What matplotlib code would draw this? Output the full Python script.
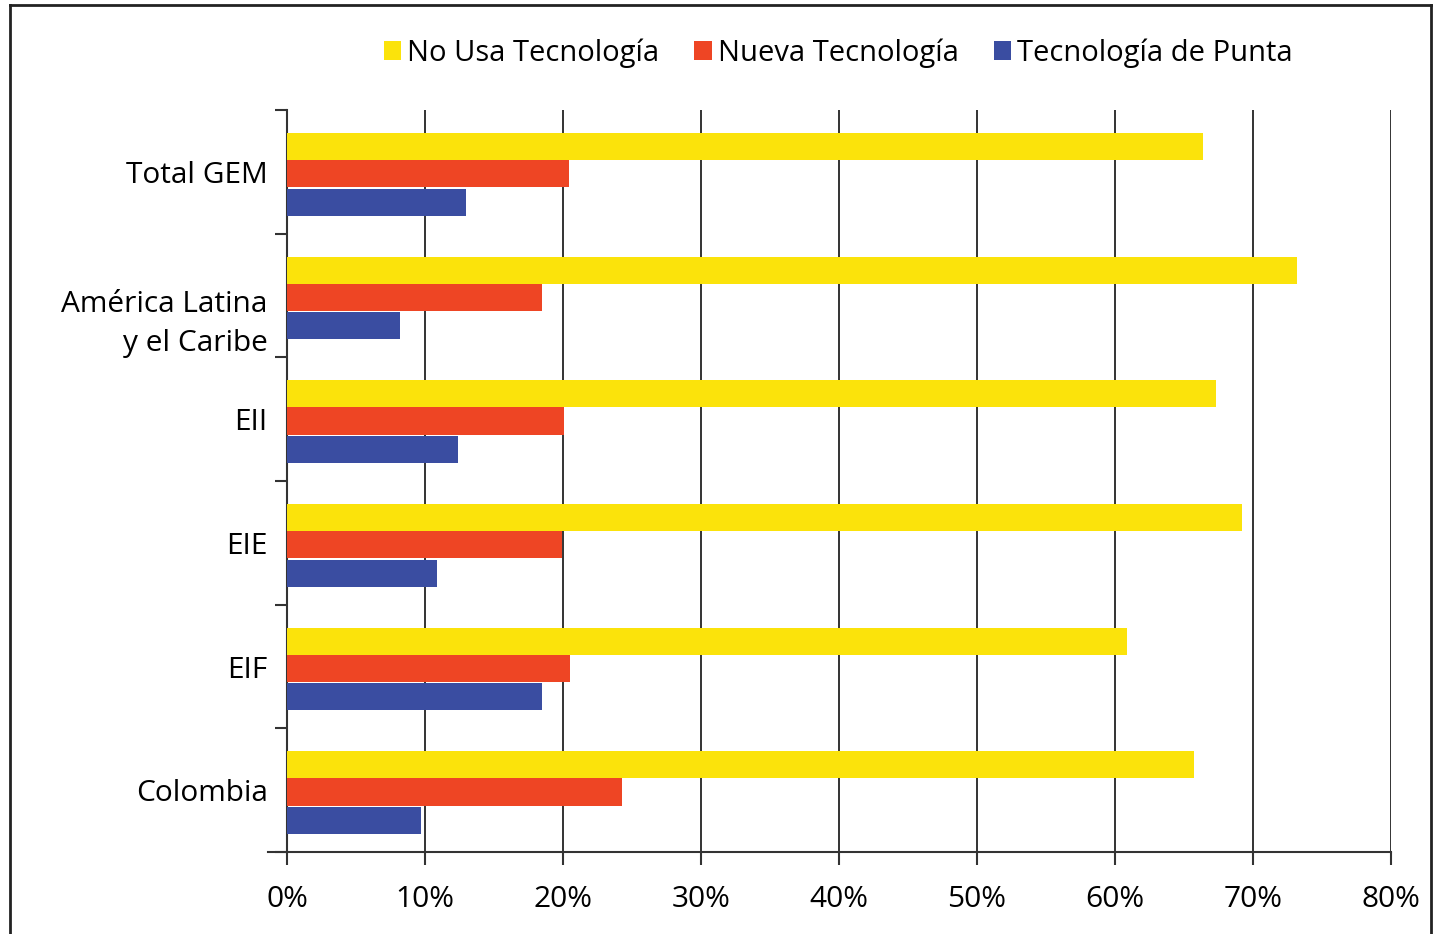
import numpy as np
import matplotlib.pyplot as plt
from matplotlib.lines import Line2D
from matplotlib.transforms import ScaledTranslation

plt.rcParams['font.family'] = ['Open Sans', 'DejaVu Sans']

# data (percent)
categorias = ['Total GEM', 'América Latina\ny el Caribe', 'EII', 'EIE', 'EIF', 'Colombia']
series = ['No Usa Tecnología', 'Nueva Tecnología', 'Tecnología de Punta']
no_usa = [66.4, 73.2, 67.3, 69.2, 60.9, 65.7]
nueva = [20.4, 18.5, 20.1, 19.9, 20.5, 24.3]
punta = [13.0, 8.2, 12.4, 10.9, 18.5, 9.7]
colores = ['#FBE30B', '#EE4524', '#3A4DA1']

fig = plt.figure(figsize=(14.33, 9.34), dpi=100)
ax = fig.add_axes([0.2003, 0.0878, 0.7704, 0.7944])

y = np.arange(len(categorias))
h = 0.22
offs = [-0.205, 0.015, 0.245]
for vals, off, c, name in zip([no_usa, nueva, punta], offs, colores, series):
    ax.barh(y + off, vals, height=h, color=c, label=name, zorder=3)

ax.set_xlim(0, 80)
ax.set_ylim(len(categorias) - 0.5, -0.5)

ax.set_xticks(np.arange(0, 81, 10))
ax.set_xticklabels([f'{v}%' for v in range(0, 81, 10)], fontsize=21.5)
ax.tick_params(axis='x', length=9, width=1.5, pad=15, color='#333333')
ax.grid(axis='x', color='#333333', linewidth=1.4, zorder=0)

ax.set_yticks(y)
ax.set_yticklabels(categorias, fontsize=21.5, linespacing=1.45)
ax.set_yticks(np.arange(-0.5, len(categorias)), minor=True)
ax.tick_params(axis='y', which='major', length=0, pad=14)
ax.tick_params(axis='y', which='minor', length=9, width=1.5, color='#333333')

# two-line label sits a little lower in the original
lbl = ax.get_yticklabels()[1]
lbl.set_transform(lbl.get_transform() + ScaledTranslation(0, -0.2, fig.dpi_scale_trans))

for s in ['top', 'right']:
    ax.spines[s].set_visible(False)
for s in ['left', 'bottom']:
    ax.spines[s].set_color('#333333')
    ax.spines[s].set_linewidth(1.5)
ax.plot([-0.017, 0], [0, 0], transform=ax.transAxes, color='#333333',
        linewidth=1.5, clip_on=False)

fig.legend(loc='center', bbox_to_anchor=(0.585, 0.943), ncol=3, frameon=False,
           fontsize=21, handlelength=0.6, handleheight=0.6, handletextpad=0.2,
           columnspacing=1.2)

# outer frame
fig.add_artist(Line2D([0.007, 0.007], [0, 0.9946], color='#222222', linewidth=2))
fig.add_artist(Line2D([0.007, 0.9986], [0.9946, 0.9946], color='#222222', linewidth=2))
fig.add_artist(Line2D([0.9986, 0.9986], [0, 0.9946], color='#222222', linewidth=2))

fig.savefig('out.png', dpi=100)
